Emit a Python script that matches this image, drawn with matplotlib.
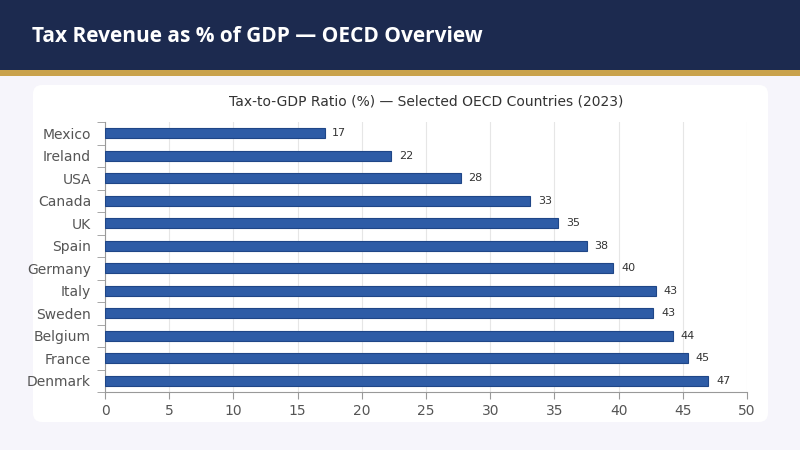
import matplotlib.pyplot as plt
from matplotlib.patches import FancyBboxPatch, Rectangle

countries = ['Mexico', 'Ireland', 'USA', 'Canada', 'UK', 'Spain', 'Germany',
             'Italy', 'Sweden', 'Belgium', 'France', 'Denmark']
values = [17.1, 22.3, 27.7, 33.1, 35.3, 37.5, 39.6, 42.9, 42.7, 44.2, 45.4, 47.0]
labels = ['17', '22', '28', '33', '35', '38', '40', '43', '43', '44', '45', '47']

fig = plt.figure(figsize=(8, 4.5), dpi=100)
fig.patch.set_facecolor('#f6f5fb')

# background layer: header band, gold stripe, white card
bg = fig.add_axes([0, 0, 1, 1], zorder=-10)
bg.set_xlim(0, 800)
bg.set_ylim(450, 0)
bg.axis('off')
bg.add_patch(Rectangle((0, 0), 800, 70, facecolor='#1c2a4f', edgecolor='none'))
bg.add_patch(Rectangle((0, 70), 800, 6, facecolor='#c9a24c', edgecolor='none'))
bg.add_patch(FancyBboxPatch((33, 85), 735, 337, boxstyle='round,pad=0,rounding_size=9',
                            facecolor='white', edgecolor='none'))
bg.text(32, 37, 'Tax Revenue as % of GDP \u2014 OECD Overview', color='white',
        fontsize=15, fontweight='bold', family='Open Sans', va='center')

ax = fig.add_axes([105/800, 1 - 392/450, 642/800, 270/450])
ax.set_facecolor('none')
y = list(range(len(countries)))
ax.barh(y, values, height=0.45, color='#2e5ca6', edgecolor='#1f4687', linewidth=0.8, zorder=3)
for yi, v, lab in zip(y, values, labels):
    ax.text(v + 0.6, yi, lab, va='center', ha='left', fontsize=8, color='#333333')
ax.set_ylim(len(countries) - 0.5, -0.5)
ax.set_xlim(0, 50)
ax.set_xticks(range(0, 51, 5))
ax.set_yticks(y)
ax.set_yticklabels(countries)
ax.set_yticks([i - 0.5 for i in range(len(countries) + 1)], minor=True)
ax.tick_params(axis='y', which='major', length=0, labelsize=10, colors='#555555', pad=10)
ax.tick_params(axis='y', which='minor', length=6, color='#999999')
ax.tick_params(axis='x', length=5, color='#999999', labelsize=10, labelcolor='#555555')
ax.grid(axis='x', color='#e6e6e6', linewidth=0.8, zorder=0)
for s in ['top', 'right']:
    ax.spines[s].set_visible(False)
ax.spines['left'].set_color('#999999')
ax.spines['bottom'].set_color('#999999')
ax.set_title('Tax-to-GDP Ratio (%) \u2014 Selected OECD Countries (2023)', fontsize=10,
             color='#333333', pad=12)

fig.savefig('out.png', dpi=100, facecolor=fig.get_facecolor())
